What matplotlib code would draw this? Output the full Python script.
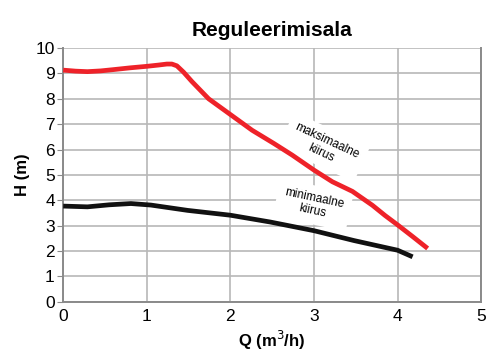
import matplotlib
matplotlib.use("Agg")
import matplotlib.pyplot as plt

plt.rcParams['font.family'] = ['Liberation Sans', 'DejaVu Sans']

# Pump curves: flow Q (m3/h) vs head H (m)
q_max = [0.0, 0.15, 0.29, 0.45, 0.6, 0.8, 1.0, 1.14, 1.24, 1.30, 1.36, 1.44,
         1.54, 1.74, 2.0, 2.26, 2.52, 2.74, 3.0, 3.22, 3.46, 3.70, 3.85,
         4.0, 4.18, 4.36]
h_max = [9.13, 9.09, 9.07, 9.1, 9.15, 9.22, 9.28, 9.33, 9.37, 9.37, 9.3, 9.05,
         8.68, 8.0, 7.38, 6.76, 6.24, 5.78, 5.19, 4.73, 4.35, 3.8, 3.4,
         3.03, 2.57, 2.1]

q_min = [0.0, 0.29, 0.55, 0.81, 1.05, 1.49, 2.0, 2.48, 3.0, 3.48, 4.0, 4.18]
h_min = [3.77, 3.74, 3.82, 3.87, 3.81, 3.6, 3.41, 3.14, 2.8, 2.41, 2.03, 1.77]

x_ticks = [0, 1, 2, 3, 4, 5]
y_ticks = list(range(0, 11))

fig = plt.figure(figsize=(4.86, 3.56), dpi=100)
ax = fig.add_axes([0.130, 0.1525, 0.860, 0.7125])

ax.plot(q_max, h_max, color='#ee2229', lw=3.4, solid_capstyle='butt',
        solid_joinstyle='round', zorder=3)
ax.plot(q_min, h_min, color='#111111', lw=3.4, solid_capstyle='butt',
        solid_joinstyle='round', zorder=3)

ax.set_xlim(0, 5)
ax.set_ylim(0, 10)
ax.set_xticks(x_ticks)
ax.set_yticks(y_ticks)
ax.grid(True, color='#b8b8b8', lw=1.2)
ax.set_axisbelow(True)
for side in ['left', 'bottom', 'right', 'top']:
    ax.spines[side].set_color('#8a8a8a')
    ax.spines[side].set_linewidth(1.4)
ax.spines['top'].set_visible(False)
ax.tick_params(axis='y', length=4, color='#8a8a8a', labelsize=12.5, pad=2)
ax.tick_params(axis='x', length=0, labelsize=12.5, pad=5)

ax.set_title('Reguleerimisala', fontsize=15, fontweight='bold', pad=9)
ax.set_xlabel('Q (m$^3$/h)', fontsize=12, fontweight='bold', labelpad=4)
ax.set_ylabel('H (m)', fontsize=12, fontweight='bold', labelpad=4)

box = dict(boxstyle='square,pad=0.6', fc='white', ec='none')
ax.text(3.12, 6.1, 'maksimaalne\nkiirus', fontsize=8.5, rotation=-25,
        ha='center', va='center', linespacing=1.05, bbox=box, zorder=2)
ax.text(2.99, 3.82, 'minimaalne\nkiirus', fontsize=8.5, rotation=-12,
        ha='center', va='center', linespacing=1.05, bbox=box, zorder=2)

fig.savefig('out.png', dpi=100)
